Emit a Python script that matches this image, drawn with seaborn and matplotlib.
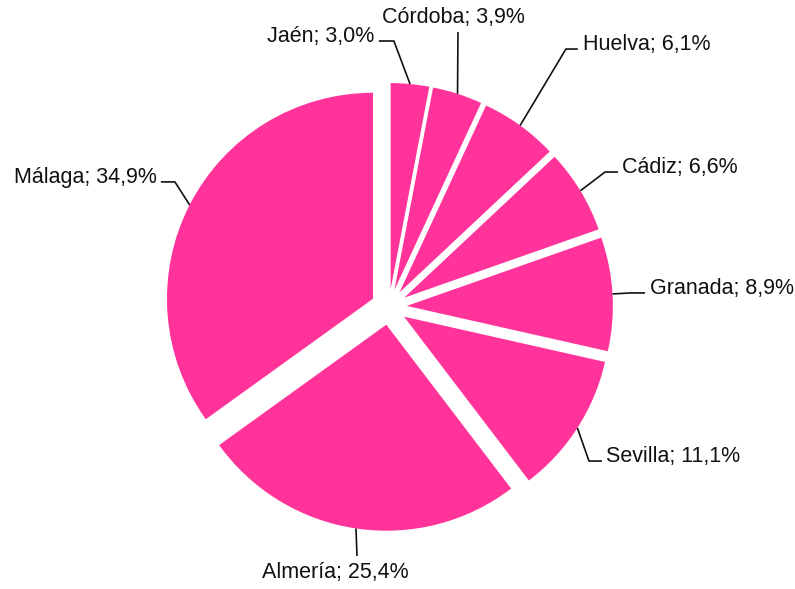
import matplotlib
matplotlib.use("Agg")
import numpy as np
import matplotlib.pyplot as plt
import seaborn as sns

# data, clockwise from 12 o'clock
PROVINCES = ["Jaén", "Córdoba", "Huelva", "Cádiz", "Granada", "Sevilla", "Almería", "Málaga"]
SHARES    = [3.0, 3.9, 6.1, 6.6, 8.9, 11.1, 25.4, 34.9]

PINK     = "#ff3399"
EXPLODE  = 0.087
OUT_PATH = "out.png"

# label layout (data units, pie radius = 1): elbow, line end, text anchor, ha, va
LABEL_LAYOUT = [
    ((0.024, 1.291),  (-0.049, 1.291), (-0.073, 1.286), "right",  "baseline"),
    ((0.335, 1.335),  (0.335, 1.335),  (0.311, 1.352),  "center", "bottom"),
    ((0.859, 1.252),  (0.917, 1.252),  (0.942, 1.247),  "left",   "baseline"),
    ((1.049, 0.655),  (1.112, 0.655),  (1.131, 0.650),  "left",   "baseline"),
    ((1.170, 0.068),  (1.243, 0.068),  (1.267, 0.063),  "left",   "baseline"),
    ((0.971, -0.748), (1.034, -0.748), (1.053, -0.753), "left",   "baseline"),
    ((-0.155, -1.209), (-0.155, -1.209), (-0.262, -1.238), "center", "top"),
    ((-1.039, 0.607), (-1.107, 0.607), (-1.126, 0.602), "right",  "baseline"),
]

sns.set_theme(style="white")
plt.rcParams["font.family"] = ["Liberation Sans", "DejaVu Sans"]

fig = plt.figure(figsize=(7.95, 5.89), dpi=100)
ax = fig.add_axes([0, 0, 1, 1])

colors = sns.color_palette([PINK] * len(SHARES))
wedges, _ = ax.pie(
    SHARES,
    colors=colors,
    startangle=90,
    counterclock=False,
    explode=[EXPLODE] * len(SHARES),
    wedgeprops=dict(linewidth=0),
)

for wedge, name, value, layout in zip(wedges, PROVINCES, SHARES, LABEL_LAYOUT):
    elbow, end, text_xy, ha, va = layout
    mid = np.deg2rad((wedge.theta1 + wedge.theta2) / 2)
    r = 1 + EXPLODE
    start = (r * np.cos(mid), r * np.sin(mid))
    ax.plot([start[0], elbow[0], end[0]], [start[1], elbow[1], end[1]],
            color="#111111", lw=1.2, solid_capstyle="butt")
    label = f"{name}; {value:.1f}%".replace(".", ",")
    ax.text(text_xy[0], text_xy[1], label, ha=ha, va=va,
            fontsize=15.5, color="#111111")

ax.set_xlim(-1.888, 1.971)
ax.set_ylim(-1.369, 1.490)
ax.set_aspect("equal")
ax.axis("off")

fig.savefig(OUT_PATH, dpi=100)
plt.close(fig)
